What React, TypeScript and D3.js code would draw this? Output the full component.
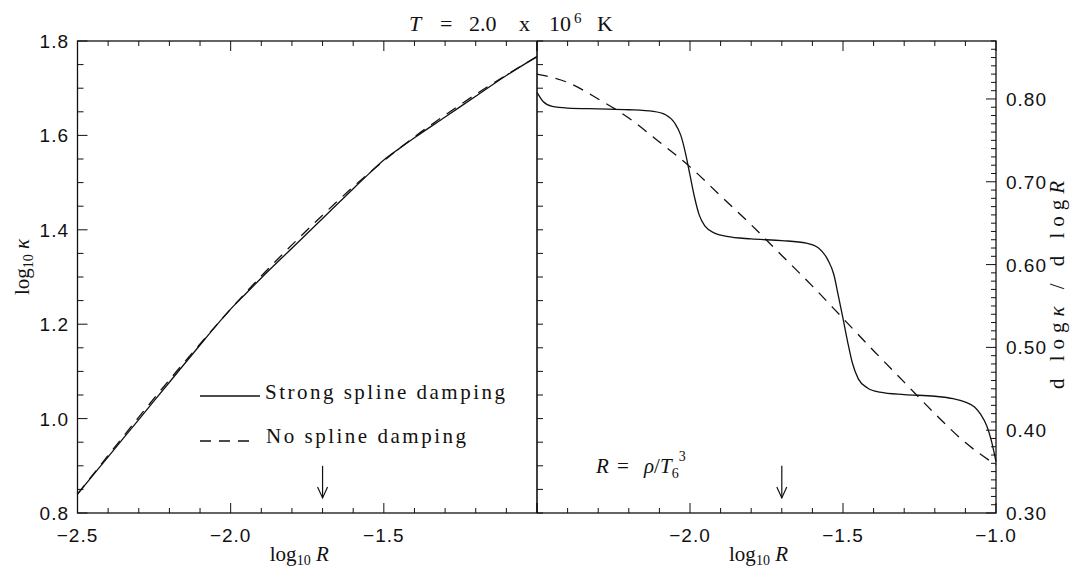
import React from "react";
import * as d3 from "d3";

// log10 R sample grid and log10 kappa for the strongly damped spline
const kappaStrongLogR = [-2.5, -2.4, -2.3, -2.2, -2.1, -2.05, -2.0, -1.95, -1.9, -1.8, -1.7, -1.6, -1.55, -1.5, -1.45, -1.4, -1.3, -1.2, -1.1, -1.0];
const kappaStrong = [0.840, 0.919, 0.998, 1.077, 1.156, 1.195, 1.232, 1.265, 1.298, 1.361, 1.424, 1.487, 1.518, 1.548, 1.572, 1.595, 1.639, 1.683, 1.727, 1.767];

// log10 kappa for the undamped spline
const kappaNoneLogR = [-2.5, -2.4, -2.3, -2.2, -2.1, -2.0, -1.9, -1.8, -1.7, -1.6, -1.5, -1.4, -1.3, -1.2, -1.1, -1.0];
const kappaNone = [0.840, 0.922, 1.003, 1.082, 1.158, 1.232, 1.302, 1.368, 1.431, 1.491, 1.546, 1.597, 1.643, 1.687, 1.728, 1.767];

// d log kappa / d log R, strong damping (step-like)
const slopeStrongLogR = [-2.5, -2.48, -2.45, -2.4, -2.3, -2.2, -2.12, -2.08, -2.05, -2.03, -2.015, -2.0, -1.985, -1.97, -1.95, -1.92, -1.88, -1.8, -1.7, -1.62, -1.58, -1.55, -1.53, -1.515, -1.5, -1.485, -1.47, -1.45, -1.42, -1.38, -1.3, -1.2, -1.14, -1.1, -1.07, -1.05, -1.03, -1.015, -1.0];
const slopeStrong = [0.808, 0.797, 0.791, 0.789, 0.788, 0.787, 0.785, 0.781, 0.771, 0.756, 0.735, 0.708, 0.681, 0.660, 0.646, 0.638, 0.634, 0.631, 0.629, 0.626, 0.620, 0.606, 0.588, 0.562, 0.535, 0.507, 0.482, 0.462, 0.451, 0.446, 0.443, 0.441, 0.438, 0.434, 0.428, 0.419, 0.405, 0.387, 0.362];

// d log kappa / d log R, no damping
const slopeNoneLogR = [-2.5, -2.4, -2.3, -2.2, -2.1, -2.0, -1.9, -1.8, -1.7, -1.6, -1.5, -1.4, -1.3, -1.2, -1.1, -1.0];
const slopeNone = [0.830, 0.820, 0.800, 0.777, 0.748, 0.718, 0.683, 0.648, 0.611, 0.574, 0.535, 0.496, 0.458, 0.420, 0.385, 0.358];

// tick labels
const xLabelsLeft = [-2.5, -2.0, -1.5];
const xLabelsRight = [-2.0, -1.5, -1.0];
const kappaLabels = [0.8, 1.0, 1.2, 1.4, 1.6, 1.8];
const slopeLabels = [0.3, 0.4, 0.5, 0.6, 0.7, 0.8];

// marker arrows at log R = -1.7
const arrowLogR = -1.7;
const arrowTop = 0.90;
const arrowTip = 0.832;

const W = 1070;
const H = 569;
const TOP = 41;
const BOTTOM = 513;
const LEFT = 77.5;
const MID = 537;
const RIGHT = 996;

const xL = d3.scaleLinear().domain([-2.5, -1.0]).range([LEFT, MID]);
const xR = d3.scaleLinear().domain([-2.5, -1.0]).range([MID, RIGHT]);
const yK = d3.scaleLinear().domain([0.8, 1.8]).range([BOTTOM, TOP]);
const yS = d3.scaleLinear().domain([0.3, 0.87]).range([BOTTOM, TOP]);

const tickFont = "'Liberation Sans', Arial, sans-serif";
const serif = "'Liberation Serif', 'DejaVu Serif', serif";
const ink = "#111";
const dash = "11,8";

const fmt1 = d3.format(".1f");
const fmt2 = d3.format(".2f");

function pairs(xs: number[], ys: number[]): [number, number][] {
  return xs.map((x, i) => [x, ys[i]]);
}

export default function App() {
  const lineL = d3.line<[number, number]>().x((d) => xL(d[0])).y((d) => yK(d[1])).curve(d3.curveMonotoneX);
  const lineR = d3.line<[number, number]>().x((d) => xR(d[0])).y((d) => yS(d[1])).curve(d3.curveMonotoneX);

  const xMinor = d3.range(0, 16).map((i) => -2.5 + i * 0.1);
  const kMinor = d3.range(0, 21).map((i) => 0.8 + i * 0.05);
  const sMinor = d3.range(0, 58).map((i) => 0.3 + i * 0.01);

  const ticks: React.ReactNode[] = [];
  // top and bottom ticks on both panels
  [xL, xR].forEach((sx, p) => {
    xMinor.forEach((v, i) => {
      const major = i % 5 === 0;
      const len = major ? 10 : 5;
      const x = sx(v);
      ticks.push(<line key={`b${p}-${i}`} x1={x} x2={x} y1={BOTTOM} y2={BOTTOM - len} />);
      ticks.push(<line key={`t${p}-${i}`} x1={x} x2={x} y1={TOP} y2={TOP + len} />);
    });
  });
  // left kappa axis, repeated on the panel divider
  kMinor.forEach((v, i) => {
    const len = i % 4 === 0 ? 10 : 6;
    ticks.push(<line key={`l${i}`} x1={LEFT} x2={LEFT + len} y1={yK(v)} y2={yK(v)} />);
    ticks.push(<line key={`m${i}`} x1={MID} x2={MID + 6} y1={yK(v)} y2={yK(v)} />);
  });
  // right slope axis
  sMinor.forEach((v, i) => {
    const len = i % 10 === 0 ? 10 : 5;
    ticks.push(<line key={`r${i}`} x1={RIGHT} x2={RIGHT - len} y1={yS(v)} y2={yS(v)} />);
  });

  const arrow = (sx: d3.ScaleLinear<number, number>, key: string) => {
    const x = sx(arrowLogR);
    const y0 = yK(arrowTop);
    const y1 = yK(arrowTip);
    return (
      <g key={key} stroke={ink} strokeWidth={1.2} fill="none">
        <line x1={x} x2={x} y1={y0} y2={y1} />
        <polyline points={`${x - 5},${y1 - 11} ${x},${y1} ${x + 5},${y1 - 11}`} />
      </g>
    );
  };

  return (
    <svg width={W} height={H} style={{ position: "absolute", left: 0, top: 0, background: "#fff" }}>
      {/* title */}
      <text x={409} y={31} fontFamily={serif} fontSize={22} fill={ink}>
        <tspan fontStyle="italic">T</tspan>
        <tspan x={440}>=</tspan>
        <tspan x={469}>2.0</tspan>
        <tspan x={519}>x</tspan>
        <tspan x={549}>10</tspan>
        <tspan x={574} dy={-8} fontSize={15}>6</tspan>
        <tspan x={597} dy={8}>K</tspan>
      </text>

      {/* curves */}
      <g fill="none" stroke={ink} strokeWidth={1.3}>
        <path d={lineL(pairs(kappaStrongLogR, kappaStrong)) || ""} />
        <path d={lineL(pairs(kappaNoneLogR, kappaNone)) || ""} strokeDasharray={dash} />
        <path d={lineR(pairs(slopeStrongLogR, slopeStrong)) || ""} />
        <path d={lineR(pairs(slopeNoneLogR, slopeNone)) || ""} strokeDasharray={dash} />
      </g>

      {/* frame and ticks */}
      <g stroke={ink} strokeWidth={1.3} fill="none">
        <rect x={LEFT} y={TOP} width={RIGHT - LEFT} height={BOTTOM - TOP} />
        <line x1={MID} x2={MID} y1={TOP} y2={BOTTOM} strokeWidth={1.6} />
      </g>
      <g stroke={ink} strokeWidth={1}>{ticks}</g>

      {/* tick labels */}
      <g fontFamily={tickFont} fontSize={19} fill={ink} letterSpacing={1}>
        {xLabelsLeft.map((v) => (
          <text key={`xl${v}`} x={xL(v)} y={542} textAnchor="middle">{fmt1(v)}</text>
        ))}
        {xLabelsRight.map((v) => (
          <text key={`xr${v}`} x={xR(v)} y={542} textAnchor="middle">{fmt1(v)}</text>
        ))}
        {kappaLabels.map((v) => (
          <text key={`k${v}`} x={69} y={yK(v) + 7} textAnchor="end">{fmt1(v)}</text>
        ))}
        {slopeLabels.map((v) => (
          <text key={`s${v}`} x={1006} y={yS(v) + 7} textAnchor="start">{fmt2(v)}</text>
        ))}
      </g>

      {/* axis titles */}
      <g fontFamily={serif} fontSize={21} fill={ink}>
        {[xL, xR].map((sx, i) => (
          <text key={`xt${i}`} x={(sx.range()[0] + sx.range()[1]) / 2 - 8} y={561} textAnchor="middle">
            log<tspan fontSize={14} dy={4}>10</tspan>
            <tspan dy={-4}> </tspan>
            <tspan fontStyle="italic">R</tspan>
          </text>
        ))}
        <text transform={`translate(29, 267) rotate(-90)`} textAnchor="middle">
          log<tspan fontSize={14} dy={4}>10</tspan>
          <tspan dy={-4}> </tspan>
          <tspan fontStyle="italic">κ</tspan>
        </text>
        <text transform={`translate(1064, 285) rotate(-90)`} textAnchor="middle" textLength={208} lengthAdjust="spacing">
          d log<tspan fontStyle="italic">κ</tspan> / d log<tspan fontStyle="italic">R</tspan>
        </text>
      </g>

      {/* legend */}
      <g fontFamily={serif} fontSize={21} fill={ink}>
        <line x1={200} x2={260} y1={396} y2={396} stroke={ink} strokeWidth={1.3} />
        <text x={265} y={399} textLength={240} lengthAdjust="spacing">Strong spline damping</text>
        <line x1={200} x2={252} y1={441} y2={441} stroke={ink} strokeWidth={1.3} strokeDasharray={dash} />
        <text x={266} y={443} textLength={200} lengthAdjust="spacing">No spline damping</text>
      </g>

      {/* definition of R */}
      <text x={596} y={473} fontFamily={serif} fontSize={21} fill={ink}>
        <tspan fontStyle="italic">R</tspan>
        <tspan x={617}>=</tspan>
        <tspan x={644} fontStyle="italic">ρ</tspan>
        <tspan>/</tspan>
        <tspan fontStyle="italic">T</tspan>
        <tspan fontSize={14} dy={5}>6</tspan>
        <tspan fontSize={14} dy={-17}>3</tspan>
      </text>

      {arrow(xL, "al")}
      {arrow(xR, "ar")}
    </svg>
  );
}
